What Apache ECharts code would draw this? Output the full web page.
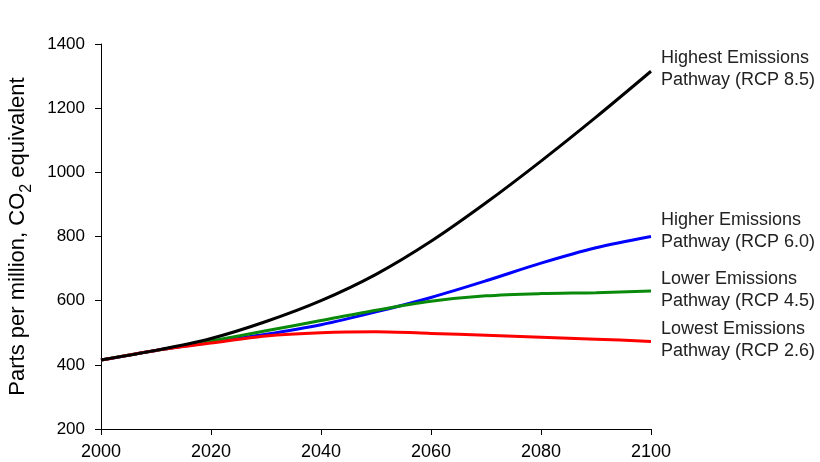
<!DOCTYPE html>
<html>
<head>
<meta charset="utf-8">
<script src="https://cdn.jsdelivr.net/npm/echarts@6/dist/echarts.min.js"></script>
<style>html,body{margin:0;padding:0;background:#fff;}#c{width:820px;height:462px;}</style>
</head>
<body>
<div id="c"></div>
<script>
var years = [2000, 2010, 2020, 2030, 2040, 2050, 2060, 2070, 2080, 2090, 2100];
var rcp85 = [415, 445, 482, 535, 600, 682, 785, 905, 1035, 1172, 1315];
var rcp60 = [415, 445, 470, 495, 525, 565, 610, 662, 717, 765, 800];
var rcp45 = [415, 445, 474, 506, 538, 570, 598, 615, 622, 625, 630];
var rcp26 = [415, 445, 468, 490, 500, 503, 498, 492, 486, 480, 473];
var labels = {
  rcp85: 'Highest Emissions\nPathway (RCP 8.5)',
  rcp60: 'Higher Emissions\nPathway (RCP 6.0)',
  rcp45: 'Lower Emissions\nPathway (RCP 4.5)',
  rcp26: 'Lowest Emissions\nPathway (RCP 2.6)'
};
var yTicks = [200, 400, 600, 800, 1000, 1200, 1400];
var xTicks = [2000, 2020, 2040, 2060, 2080, 2100];
var FONT = 'Liberation Sans, Arial, sans-serif';

function pairs(v){ return years.map(function(y,i){ return [y, v[i]]; }); }
function mk(name, data, color, off){
  return {
    name: name, type: 'line', data: pairs(data), smooth: 0.3, showSymbol: false,
    lineStyle: {color: color, width: 3}, itemStyle: {color: color},
    endLabel: {show: true, formatter: labels[name], color: '#222', fontSize: 18,
      fontFamily: FONT, lineHeight: 22, distance: 10, offset: off}
  };
}
var chart = echarts.init(document.getElementById('c'));
chart.setOption({
  animation: false,
  backgroundColor: '#fff',
  grid: {left: 101, right: 169, top: 44, bottom: 33, containLabel: false, outerBoundsMode: 'none'},
  xAxis: {
    type: 'value', min: 2000, max: 2100, interval: 20,
    axisLine: {show: true, lineStyle: {color: '#000', width: 1}},
    axisTick: {show: true, length: 6, lineStyle: {color: '#000'}},
    axisLabel: {color: '#000', fontSize: 18, fontFamily: FONT, margin: 14,
      formatter: function(v){ return String(v); }},
    splitLine: {show: false}
  },
  yAxis: {
    type: 'value', min: 200, max: 1400, interval: 200,
    name: '{a|Parts per million, CO}{s|2}{a| equivalent}', nameLocation: 'middle', nameRotate: 90, nameGap: 66,
    nameTextStyle: {color: '#000', fontSize: 22, fontFamily: FONT,
      rich: {
        a: {fontSize: 22, fontFamily: FONT, color: '#000', lineHeight: 28, verticalAlign: 'top'},
        s: {fontSize: 16, fontFamily: FONT, color: '#000', lineHeight: 16, verticalAlign: 'bottom'}
      }},
    axisLine: {show: true, lineStyle: {color: '#000', width: 1}},
    axisTick: {show: true, length: 6, lineStyle: {color: '#000'}},
    axisLabel: {color: '#000', fontSize: 17, fontFamily: FONT, margin: 16,
      formatter: function(v){ return String(v); }},
    splitLine: {show: false}
  },
  series: [
    mk('rcp60', rcp60, '#0000ff', [0, -5]),
    mk('rcp45', rcp45, '#0a8a0a', [0, -1]),
    mk('rcp26', rcp26, '#ff0000', [0, -1]),
    mk('rcp85', rcp85, '#000000', [0, -2])
  ]
});
</script>
</body>
</html>
